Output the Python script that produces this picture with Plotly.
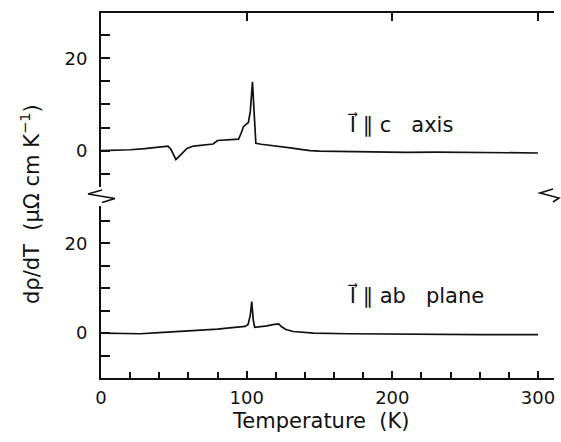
import plotly.graph_objects as go

# ---- data ----
T_c = [0, 10, 20, 30, 40, 46, 48, 51.4, 54, 59, 63.5, 70, 77, 80, 85, 94.4, 96, 97.8, 100, 101.2,
       102.5, 103.3, 104, 105, 106.3, 110, 116, 123, 130, 137, 143.6, 150, 170, 190, 210, 230,
       250, 270, 290, 300]
v_c = [0, 0.05, 0.2, 0.45, 0.75, 1.0, 0.3, -1.9, -1.1, 0.5, 1.0, 1.15, 1.45, 2.2, 2.3, 2.5, 3.6,
       5.2, 5.8, 6.1, 8.5, 12.5, 14.9, 9.0, 1.6, 1.4, 1.2, 0.9, 0.6, 0.3, 0.0, -0.1, -0.2, -0.3,
       -0.35, -0.3, -0.4, -0.35, -0.45, -0.5]

T_ab = [0, 10, 20, 27, 40, 55, 68, 80, 90, 99, 101, 102.5, 103.5, 104.5, 105.5, 110, 114, 118,
        122, 124, 127, 132, 140, 146, 170, 200, 230, 260, 300]
v_ab = [0, -0.05, -0.1, -0.15, 0.1, 0.35, 0.6, 0.9, 1.2, 1.5, 1.9, 4.0, 7.0, 3.0, 1.3, 1.4, 1.6,
        1.9, 2.05, 1.4, 0.8, 0.35, 0.1, 0.0, -0.15, -0.25, -0.3, -0.35, -0.35]

x_major = [0, 100, 200, 300]
y_labels = [0, 20]
NB = "\u00a0"
label_c = "I\u20d7" + NB + "\u2225" + NB + "c" + NB * 3 + "axis"
label_ab = "I\u20d7" + NB + "\u2225" + NB + "ab" + NB * 3 + "plane"
x_title = "Temperature" + NB * 2 + "(K)"
y_title = "d\u03c1/dT" + NB * 2 + "(\u03bc\u03a9 cm K<sup>\u22121</sup>)"

# ---- geometry helpers (pixel -> paper) ----
W, H = 561, 442
L, R, TOP, B = 101, 7, 13, 64
PW, PH = W - L - R, H - TOP - B


def px(x):
    return (x - L) / PW


def py(y):
    return (H - B - y) / PH


FONT = "DejaVu Sans"
BLACK = "#111"

fig = go.Figure()
fig.add_trace(go.Scatter(x=T_c, y=v_c, mode="lines", line=dict(color=BLACK, width=1.7),
                         xaxis="x2", yaxis="y2", showlegend=False))
fig.add_trace(go.Scatter(x=T_ab, y=v_ab, mode="lines", line=dict(color=BLACK, width=1.7),
                         xaxis="x", yaxis="y", showlegend=False))

xr = [0, 311]
top_dom = [py(187), 1]
bot_dom = [0, py(206)]

common_y = dict(showline=True, linecolor=BLACK, linewidth=2, ticks="inside", ticklen=9,
                tickwidth=1.5, tickcolor=BLACK, tickvals=y_labels, showgrid=False,
                zeroline=False, tickfont=dict(family=FONT, size=18, color=BLACK),
                minor=dict(dtick=5, tick0=0, ticks="inside", ticklen=9, tickwidth=1.5,
                           tickcolor=BLACK, showgrid=False),
                ticklabelstandoff=8)
right_y = dict(showline=True, linecolor=BLACK, linewidth=2, ticks="inside", ticklen=9,
               tickwidth=1.5, tickcolor=BLACK, tickvals=y_labels, showticklabels=False,
               showgrid=False, zeroline=False, side="right")

fig.update_layout(
    width=W, height=H,
    margin=dict(l=L, r=R, t=TOP, b=B),
    paper_bgcolor="white", plot_bgcolor="white",
    xaxis=dict(domain=[0, 1], range=xr, showline=True, linecolor=BLACK, linewidth=2,
               ticks="inside", ticklen=7, tickwidth=1.5, tickcolor=BLACK, tickvals=x_major,
               tickfont=dict(family=FONT, size=18, color=BLACK), showgrid=False,
               zeroline=False, anchor="y", ticklabelstandoff=2,
               minor=dict(dtick=20, tick0=0, ticks="inside", ticklen=6, tickwidth=1.5,
                          tickcolor=BLACK, showgrid=False)),
    xaxis2=dict(domain=[0, 1], range=xr, showline=True, linecolor=BLACK, linewidth=2,
                ticks="inside", ticklen=8, tickwidth=1.5, tickcolor=BLACK,
                tickvals=x_major[1:], showticklabels=False, side="top", anchor="y2",
                showgrid=False, zeroline=False),
    yaxis=dict(domain=bot_dom, range=[-10, 28.3], anchor="x", **common_y),
    yaxis2=dict(domain=top_dom, range=[-7.86, 29.8], anchor="x2", **common_y),
    yaxis3=dict(overlaying="y", range=[-10, 28.3], anchor="x", **right_y),
    yaxis4=dict(overlaying="y2", range=[-7.86, 29.8], anchor="x2", **right_y),
)

# axis-break zigzags
zig_left = [(102, 190), (88, 194), (115, 198.5), (102, 202.5)]
zig_right = [(553, 189), (540, 193), (559, 198), (553, 202)]
for pts in (zig_left, zig_right):
    path = "M " + " L ".join(f"{px(a)},{py(b)}" for a, b in pts)
    fig.add_shape(type="path", path=path, xref="paper", yref="paper",
                  line=dict(color=BLACK, width=1.6))

fig.add_annotation(x=px(346), y=py(125), xref="paper", yref="paper", text=label_c,
                   showarrow=False, xanchor="left", yanchor="middle",
                   font=dict(family=FONT, size=21, color=BLACK))
fig.add_annotation(x=px(346), y=py(295), xref="paper", yref="paper", text=label_ab,
                   showarrow=False, xanchor="left", yanchor="middle",
                   font=dict(family=FONT, size=21, color=BLACK))
fig.add_annotation(x=px(321), y=py(421), xref="paper", yref="paper", text=x_title,
                   showarrow=False, xanchor="center", yanchor="middle",
                   font=dict(family=FONT, size=21, color=BLACK))
fig.add_annotation(x=px(30), y=py(204), xref="paper", yref="paper", text=y_title,
                   showarrow=False, xanchor="center", yanchor="middle", textangle=-90,
                   font=dict(family=FONT, size=21, color=BLACK))

fig.write_html("out.html")
